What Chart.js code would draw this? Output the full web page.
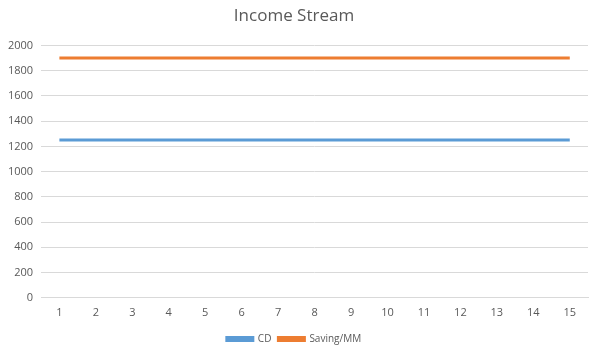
<!DOCTYPE html>
<html>
<head>
<meta charset="utf-8">
<script src="https://cdn.jsdelivr.net/npm/chart.js@4/dist/chart.umd.min.js"></script>
<style>
  html, body { margin: 0; padding: 0; background: #fff; }
  #wrap { width: 598px; height: 354px; position: relative; }
</style>
</head>
<body>
<div id="wrap"><canvas id="incomeChart"></canvas></div>
<script>
const categories = ['1','2','3','4','5','6','7','8','9','10','11','12','13','14','15'];
const cdValues = [1250, 1250, 1250, 1250, 1250, 1250, 1250, 1250, 1250, 1250, 1250, 1250, 1250, 1250, 1250];
const savingValues = [1900, 1900, 1900, 1900, 1900, 1900, 1900, 1900, 1900, 1900, 1900, 1900, 1900, 1900, 1900];
const seriesNames = ['CD', 'Saving/MM'];

const ctx = document.getElementById('incomeChart').getContext('2d');

new Chart(ctx, {
    type: 'line',
    data: {
        labels: categories,
        datasets: [{
            label: seriesNames[0],
            data: cdValues,
            borderColor: '#5B9BD5',
            backgroundColor: '#5B9BD5',
            borderWidth: 3,
            pointRadius: 0,
            tension: 0
        }, {
            label: seriesNames[1],
            data: savingValues,
            borderColor: '#ED7D31',
            backgroundColor: '#ED7D31',
            borderWidth: 3,
            pointRadius: 0,
            tension: 0
        }]
    },
    options: {
        responsive: true,
        maintainAspectRatio: false,
        animation: false,
        layout: {
          padding: { left: 0, right: 10, top: 6, bottom: 0 }
        },
        scales: {
            y: {
                min: 0,
                max: 2000,
                ticks: {
                    stepSize: 200,
                    color: '#595959',
                    font: { family: 'Open Sans', size: 11 },
                    padding: 8,
                    callback: v => String(v)  // no thousands separator
                },
                grid: {
                    color: '#d9d9d9',
                    drawTicks: false
                },
                border: { display: false }
            },
            x: {
                offset: true,
                ticks: {
                    color: '#595959',
                    font: { family: 'Open Sans', size: 11 },
                    padding: 8
                },
                grid: {
                    display: false,
                    drawTicks: false
                },
                border: { color: '#d9d9d9' }
            }
        },
        plugins: {
            title: {
                display: true,
                text: 'Income Stream',
                color: '#595959',
                font: { family: 'Open Sans', size: 17, weight: 'normal' },
                padding: { top: 0, bottom: 19 }
            },
            legend: {
                position: 'bottom',
                labels: {
                    color: '#595959',
                    font: { family: 'Open Sans', size: 10 },
                    boxWidth: 26,
                    boxHeight: 3,
                    padding: 7
                }
            },
            tooltip: { enabled: false }
        }
    }
});
</script>
</body>
</html>
